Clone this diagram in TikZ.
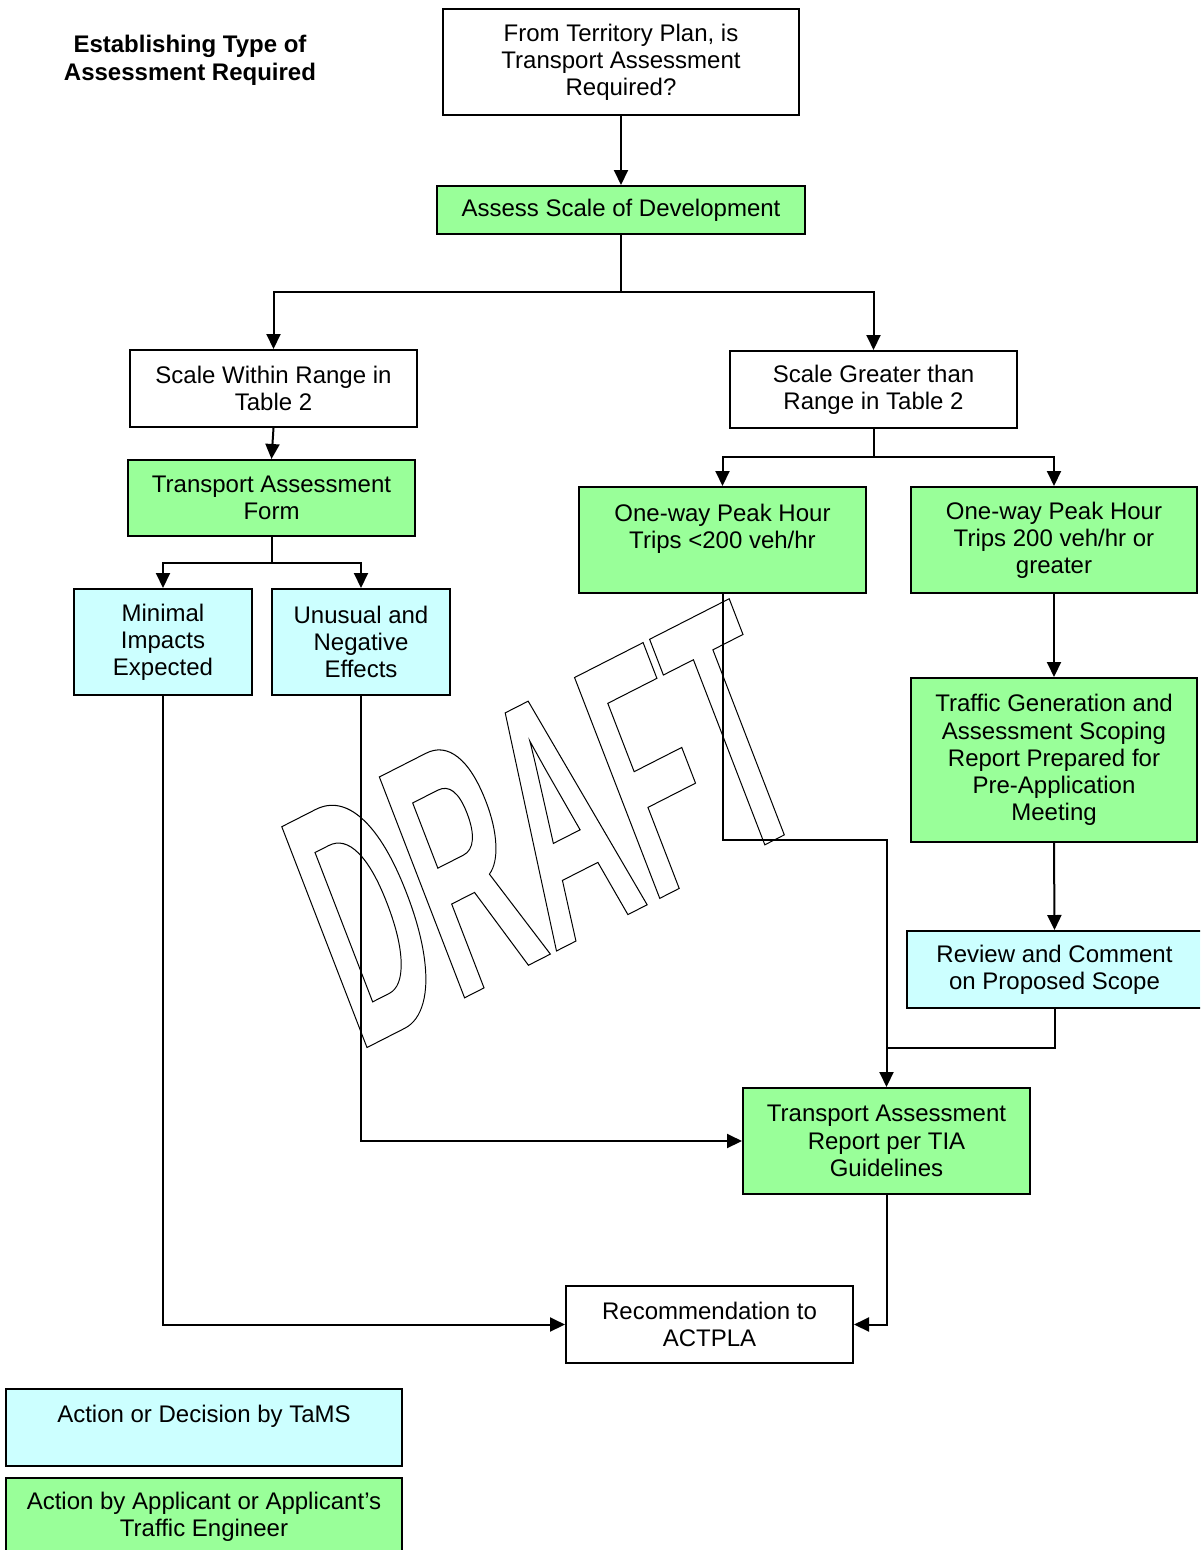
\documentclass[tikz,border=0pt]{standalone}
\usepackage{fontspec}
\setmainfont{Liberation Sans}
\newfontfamily\draftfont[FakeStretch=0.441]{Liberation Sans}
\usetikzlibrary{arrows.meta}
\definecolor{appgreen}{HTML}{99FF99}
\definecolor{tamscyan}{HTML}{CCFFFF}
\newcommand\outlineon{\special{pdf:literal direct 1 Tr 1 w}}
\newcommand\outlineoff{\special{pdf:literal direct 0 Tr}}
\tikzset{
  box/.style={draw=black, line width=2pt, rectangle, inner sep=0pt, align=center,
    font=\fontsize{24}{27.2}\selectfont},
  wbox/.style={box, fill=white},
  gbox/.style={box, fill=appgreen},
  cbox/.style={box, fill=tamscyan},
  conn/.style={line width=2pt},
  arr/.style={conn, -{Triangle[length=15pt,width=14pt]}},
}
\begin{document}
\begin{tikzpicture}[x=1pt,y=-1pt]
\useasboundingbox (0,0) rectangle (1200,1550);
\begin{scope}
\clip (0,0) rectangle (1200,1550);

\node[font=\bfseries\fontsize{24}{28}\selectfont, align=center] (title) at (190,60)
  {Establishing Type of\\Assessment Required};

\node[wbox, minimum width=356pt, minimum height=106pt] (top) at (621,62)
  {From Territory Plan, is\\Transport Assessment\\Required?};
\node[gbox, minimum width=368pt, minimum height=48pt] (assess) at (621,210)
  {Assess Scale of Development};
\node[wbox, minimum width=287pt, minimum height=77pt] (within) at (273.5,388.5)
  {Scale Within Range in\\Table 2};
\node[wbox, minimum width=287pt, minimum height=77pt] (greater) at (873.5,389.5)
  {Scale Greater than\\Range in Table 2};
\node[gbox, minimum width=287pt, minimum height=76pt] (taform) at (271.5,498)
  {Transport Assessment\\Form};
\node[gbox, minimum width=287pt, minimum height=106pt] (lt200) at (722.5,540)
  {One-way Peak Hour\\Trips <200 veh/hr\\\mbox{}};
\node[gbox, minimum width=286pt, minimum height=106pt] (ge200) at (1054,540)
  {One-way Peak Hour\\Trips 200 veh/hr or\\greater};
\node[cbox, minimum width=178pt, minimum height=106pt] (minimal) at (163,642)
  {Minimal\\Impacts\\Expected};
\node[cbox, minimum width=178pt, minimum height=106pt] (unusual) at (361,642)
  {Unusual and\\Negative\\Effects};
\node[gbox, minimum width=286pt, minimum height=164pt] (trafgen) at (1054,760)
  {Traffic Generation and\\Assessment Scoping\\Report Prepared for\\Pre-Application\\Meeting};
\node[cbox, minimum width=295pt, minimum height=77pt] (review) at (1054.5,969.5)
  {Review and Comment\\on Proposed Scope};
\node[gbox, minimum width=287pt, minimum height=106pt] (tareport) at (886.5,1141)
  {Transport Assessment\\Report per TIA\\Guidelines};
\node[wbox, minimum width=287pt, minimum height=77pt] (rec) at (709.5,1324.5)
  {Recommendation to\\ACTPLA};
\node[cbox, minimum width=396pt, minimum height=77pt] (leg1) at (204,1427.5)
  {Action or Decision by TaMS\\\mbox{}};
\node[gbox, minimum width=396pt, minimum height=77pt] (leg2) at (204,1516.5)
  {Action by Applicant or Applicant’s\\Traffic Engineer};

\coordinate (j1) at (621,292);
\coordinate (j2) at (873.5,457);
\coordinate (j3) at (271.5,563);
\coordinate (j4) at (886.5,840);
\coordinate (j5) at (886.5,1048);

\draw[arr] (top.south) -- (assess.north);
\draw[conn] (assess.south) -- (j1);
\draw[arr] (j1) -| (within.north);
\draw[arr] (j1) -| (greater.north);
\draw[arr] (within.south) -- (taform.north);
\draw[conn] (greater.south) -- (j2);
\draw[arr] (j2) -| (lt200.north);
\draw[arr] (j2) -| (ge200.north);
\draw[conn] (taform.south) -- (j3);
\draw[arr] (j3) -| (minimal.north);
\draw[arr] (j3) -| (unusual.north);
\draw[arr] (ge200.south) -- (trafgen.north);
\draw[arr] (trafgen.south) -- (review.north);
\draw[arr] (lt200.south) |- (j4) -- (tareport.north);
\draw[conn] (review.south) |- (j5);
\draw[arr] (unusual.south) |- (tareport.west);
\draw[arr] (minimal.south) |- (rec.west);
\draw[arr] (tareport.south) |- (rec.east);

\begin{scope}[shift={(368,1047)}, cm={0.891,0.454,-0.36,0.933,(0,0)}]
  \node[anchor=base west, inner sep=0pt, transform shape, font=\draftfont\bfseries\fontsize{344}{344}\selectfont] (draft) at (-11.5pt,0pt)
    {\outlineon DRAFT\outlineoff};
\end{scope}
\end{scope}
\end{tikzpicture}
\end{document}
